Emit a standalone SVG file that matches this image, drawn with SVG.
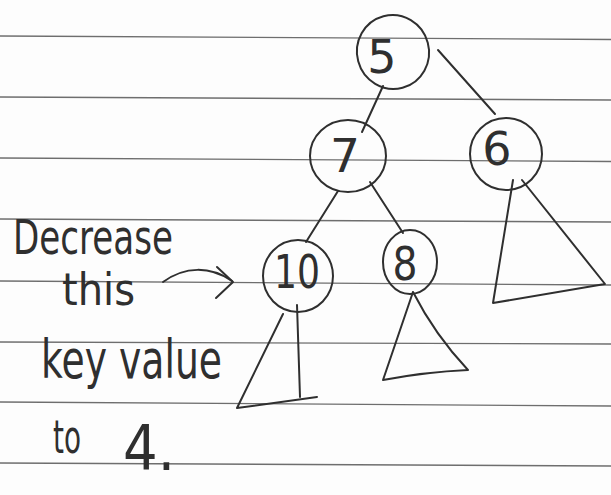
<svg xmlns="http://www.w3.org/2000/svg" width="611" height="495" viewBox="0 0 611 495">
<style>
.rule{stroke:#6e6e6e;stroke-width:1.3;fill:none}
.ink{stroke:#2f2f2f;stroke-width:2;fill:none;stroke-linecap:round;stroke-linejoin:round}
.num{font-family:"DejaVu Sans","Liberation Sans",sans-serif;font-size:46px;fill:#2f2f2f;text-anchor:middle;font-weight:normal}
.hand{font-family:"DejaVu Sans","Liberation Sans",sans-serif;fill:#2f2f2f}
</style>
<rect width="611" height="495" fill="#fdfdfd"/>
<g id="ruling">
<line class="rule" x1="0" y1="36" x2="611" y2="39.5"/>
<line class="rule" x1="0" y1="97" x2="611" y2="100"/>
<line class="rule" x1="0" y1="158" x2="611" y2="161.5"/>
<line class="rule" x1="0" y1="219" x2="611" y2="222"/>
<line class="rule" x1="0" y1="281" x2="611" y2="285"/>
<line class="rule" x1="0" y1="342" x2="611" y2="344"/>
<line class="rule" x1="0" y1="402" x2="611" y2="406"/>
<line class="rule" x1="0" y1="463" x2="611" y2="466"/>
</g>
<g id="connectors">
<path class="ink" d="M383,86 L362,132"/>
<path class="ink" d="M438,50 L495,114"/>
<path class="ink" d="M338,191 L306,242"/>
<path class="ink" d="M370,182 L403,233"/>
</g>
<g id="node-5">
<ellipse class="ink" cx="393" cy="52" rx="36" ry="37" transform="rotate(-15 393 52)"/>
<text class="num" x="382" y="73">5</text>
</g>
<g id="node-7">
<ellipse class="ink" cx="348" cy="156" rx="38" ry="36"/>
<text class="num" x="345" y="172" textLength="30" lengthAdjust="spacingAndGlyphs">7</text>
</g>
<g id="node-6">
<ellipse class="ink" cx="506" cy="154" rx="36" ry="36"/>
<text class="num" x="497" y="165">6</text>
</g>
<g id="node-10">
<ellipse class="ink" cx="298" cy="276" rx="35" ry="36"/>
<text class="num" x="297" y="288" textLength="46" lengthAdjust="spacingAndGlyphs">10</text>
</g>
<g id="node-8">
<ellipse class="ink" cx="410" cy="262" rx="27" ry="32"/>
<text class="num" x="405" y="280" textLength="25" lengthAdjust="spacingAndGlyphs">8</text>
</g>
<g id="subtree-10">
<path class="ink" d="M283,314 L237,408 L317,397"/>
<path class="ink" d="M297,305 L300,397"/>
</g>
<g id="subtree-8">
<path class="ink" d="M413,292 L383,380 Q425,372 468,370 Q435,335 413,292"/>
</g>
<g id="subtree-6">
<path class="ink" d="M513,180 L493,303 L605,284 L522,180"/>
</g>
<g id="annotation">
<text class="hand" x="13" y="254" font-size="48" textLength="160" lengthAdjust="spacingAndGlyphs">Decrease</text>
<text class="hand" x="62" y="305" font-size="44" textLength="73" lengthAdjust="spacingAndGlyphs">this</text>
<path class="ink" d="M163,282 C185,266 210,266 232,281"/>
<path class="ink" d="M217,267 L233,282 L216,298"/>
<text class="hand" x="41" y="378" font-size="54" textLength="181" lengthAdjust="spacingAndGlyphs">key value</text>
<text class="hand" x="53" y="453" font-size="46" textLength="28" lengthAdjust="spacingAndGlyphs">to</text>
<text class="hand" x="123" y="470" font-size="62" textLength="52" lengthAdjust="spacingAndGlyphs">4.</text>
</g>
</svg>
